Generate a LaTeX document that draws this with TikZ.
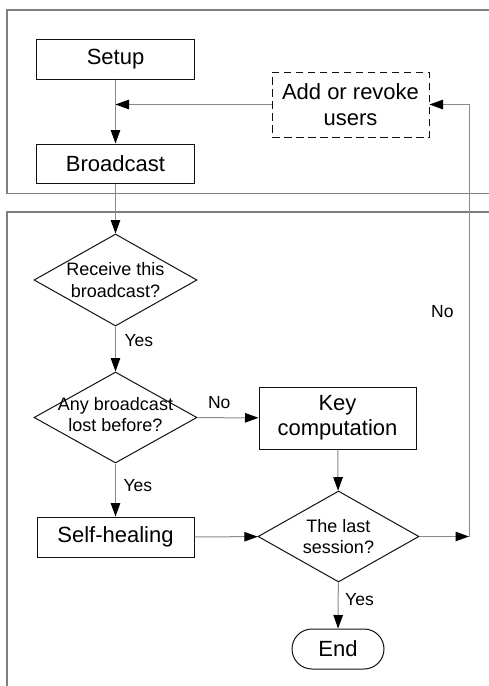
\documentclass[tikz,border=0pt]{standalone}
\usepackage{fontspec}
\setmainfont{Liberation Sans}
\usepackage{tikz}
\usetikzlibrary{arrows.meta,positioning,shapes.geometric,calc}
\usepackage{xcolor}
\definecolor{framegray}{HTML}{7F7F7F}
\definecolor{flowgray}{HTML}{8A8A8A}
\definecolor{boxblack}{HTML}{111111}

\begin{document}
\begin{tikzpicture}[
  x=1pt, y=1pt,
  font=\fontsize{22}{26}\selectfont,
  >={Triangle[length=13.5pt,width=9.5pt,color=black,fill=black]},
  frame/.style={draw=framegray, line width=1.1pt},
  flow/.style={->, draw=flowgray, line width=1pt},
  process/.style={
    draw=boxblack,
    line width=1pt,
    rectangle,
    minimum width=158pt,
    minimum height=40pt,
    inner sep=2pt,
    align=center
  },
  decision/.style={
    draw=boxblack,
    line width=1pt,
    diamond,
    inner sep=0pt,
    minimum width=163pt,
    minimum height=92pt
  },
  dtext/.style={font=\fontsize{18}{21.5}\selectfont, align=center, inner sep=0pt},
  lbl/.style={font=\fontsize{17.5}{20}\selectfont, inner sep=0pt}
]
  \useasboundingbox (0,0) rectangle (489,-686);

  % Top Frame: key server side (open to the right)
  \draw[frame] (489,-10) -- (7,-10) -- (7,-193.5) -- (489,-193.5);

  % Bottom Frame: user side (open to the right and below)
  \draw[frame] (489,-212) -- (7,-212) -- (7,-686);

  % Server steps
  \node[process] (setup) at (115.5,-59) {Setup};
  \node[process, minimum height=39pt] (bcast) at (115.5,-163.5) {Broadcast};
  \node[process, dash pattern=on 7.5pt off 4.5pt, minimum width=157pt, minimum height=65pt,
        font=\fontsize{22}{25.5}\selectfont] (addusr) at (350.5,-104.5) {Add or revoke\\users};
  \coordinate (merge) at (setup.south |- addusr.west);

  % User steps
  \node[decision, label={[dtext]center:Receive this\\broadcast?}] (recv) at (115.5,-280) {};
  \node[decision, minimum height=91pt, label={[dtext, yshift=3pt]center:Any broadcast\\lost before?}] (lost) at (115.5,-417.5) {};
  \node[process, minimum width=157pt, minimum height=62pt, font=\fontsize{22}{25}\selectfont] (keycomp) at (337.5,-418) {Key\\computation};
  \node[process, minimum width=157pt] (heal) at (115.5,-537) {Self-healing};
  \node[decision, minimum width=161pt, minimum height=91pt, label={[dtext]center:The last\\session?}] (last) at (338.5,-536.5) {};
  \node[process, rounded corners=20pt, minimum width=92pt, minimum height=40pt] (fin) at (338,-649) {End};
  \coordinate (turn) at (469,-536.5);

  % Connectors
  \draw[flow] (setup) -- (bcast);
  \draw[flow] (addusr) -- (merge);
  \draw[flow] (bcast) -- (recv);
  \draw[flow] (recv) -- node[lbl, pos=0.32, right=8.5pt] {Yes} (lost);
  \draw[flow] (lost) -- node[lbl, pos=0.36, above=9pt] {No} (keycomp);
  \draw[flow] (lost) -- node[lbl, pos=0.41, right=7.5pt] {Yes} (heal);
  \draw[flow] (keycomp) -- (last);
  \draw[flow] (heal) -- (last);
  \draw[flow] (last) -- node[lbl, pos=0.38, right=6.5pt] {Yes} (fin);
  \draw[flow] (last) -- (turn);
  \draw[flow] (turn) |- node[lbl, pos=0.26, left=15pt] {No} (addusr);

\end{tikzpicture}
\end{document}
